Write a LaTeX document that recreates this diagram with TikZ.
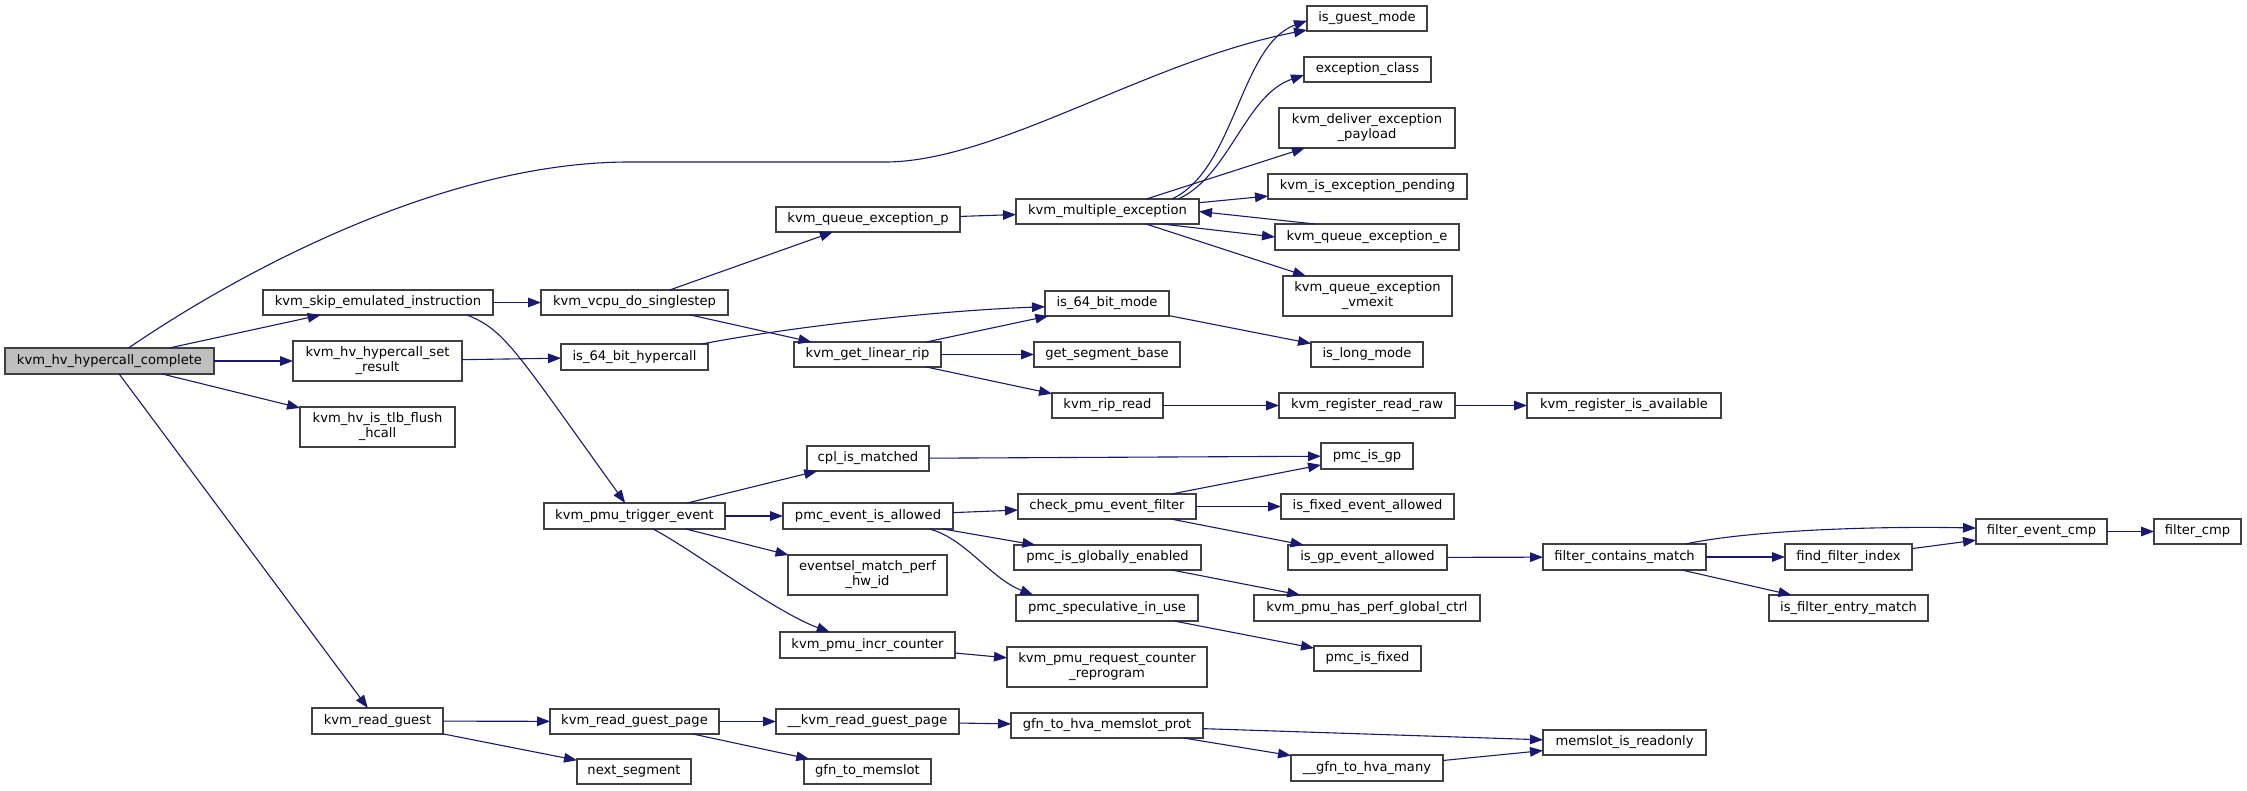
\documentclass[tikz,border=0pt]{standalone}
\usepackage{fontspec}
\setmainfont{DejaVu Sans}
\usetikzlibrary{arrows.meta}
\definecolor{edgeblue}{RGB}{25,25,112}
\definecolor{rootfill}{RGB}{191,191,191}
\definecolor{boxline}{RGB}{64,64,64}
\tikzset{
 box/.style={draw=boxline, line width=0.6pt, fill=white, inner sep=0pt, outer sep=0pt, align=center, font=\fontsize{6.55}{7.5}\selectfont, text=black},
 e/.style={draw=edgeblue, line width=0.55pt, -{Triangle[length=6.5pt,width=4.8pt]}},
}
\newcommand\nd[7][]{\node[box,#1,minimum width={(#5-#3)*0.5pt},minimum height={(#6-#4)*0.5pt}] (#2) at ({(#3+#5)/2},{(#4+#6)/2}) {#7};}
\begin{document}
\begin{tikzpicture}[x=0.5pt,y=-0.5pt]
\path[fill=white,use as bounding box] (0,0) rectangle (2247,791);
\nd[fill=rootfill]{root}{5}{348}{214}{374}{kvm\_hv\_hypercall\_complete}
\nd{skip}{263}{290}{493}{315}{kvm\_skip\_emulated\_instruction}
\nd{setres}{293}{341}{462}{381}{kvm\_hv\_hypercall\_set\\\_result}
\nd{tlb}{300}{407}{455}{447}{kvm\_hv\_is\_tlb\_flush\\\_hcall}
\nd{rg}{312}{708}{443}{734}{kvm\_read\_guest}
\nd{vcpu}{541}{290}{728}{315}{kvm\_vcpu\_do\_singlestep}
\nd{hc}{561}{344}{708}{370}{is\_64\_bit\_hypercall}
\nd{trig}{544}{503}{725}{529}{kvm\_pmu\_trigger\_event}
\nd{rgp}{550}{709}{719}{734}{kvm\_read\_guest\_page}
\nd{nseg}{577}{759}{691}{784}{next\_segment}
\nd{qp}{776}{207}{960}{232}{kvm\_queue\_exception\_p}
\nd{glr}{794}{342}{941}{367}{kvm\_get\_linear\_rip}
\nd{cpl}{807}{446}{929}{471}{cpl\_is\_matched}
\nd{pea}{783}{503}{953}{529}{pmc\_event\_is\_allowed}
\nd{evs}{788}{555}{947}{595}{eventsel\_match\_perf\\\_hw\_id}
\nd{incr}{780}{632}{955}{658}{kvm\_pmu\_incr\_counter}
\nd{krgp}{776}{709}{959}{734}{\_\_kvm\_read\_guest\_page}
\nd{g2m}{804}{759}{931}{784}{gfn\_to\_memslot}
\nd{mult}{1016}{199}{1199}{224}{kvm\_multiple\_exception}
\nd{mode}{1045}{291}{1169}{316}{is\_64\_bit\_mode}
\nd{seg}{1034}{342}{1180}{367}{get\_segment\_base}
\nd{rip}{1052}{393}{1163}{418}{kvm\_rip\_read}
\nd{cpef}{1018}{494}{1196}{519}{check\_pmu\_event\_filter}
\nd{glob}{1014}{545}{1201}{570}{pmc\_is\_globally\_enabled}
\nd{spec}{1016}{595}{1198}{621}{pmc\_speculative\_in\_use}
\nd{req}{1007}{647}{1207}{687}{kvm\_pmu\_request\_counter\\\_reprogram}
\nd{ghmp}{1011}{713}{1203}{738}{gfn\_to\_hva\_memslot\_prot}
\nd{guest}{1307}{6}{1427}{31}{is\_guest\_mode}
\nd{exc}{1304}{57}{1431}{82}{exception\_class}
\nd{deliv}{1279}{108}{1455}{148}{kvm\_deliver\_exception\\\_payload}
\nd{pend}{1268}{174}{1467}{199}{kvm\_is\_exception\_pending}
\nd{qe}{1275}{224}{1459}{250}{kvm\_queue\_exception\_e}
\nd{vmexit}{1283}{276}{1452}{316}{kvm\_queue\_exception\\\_vmexit}
\nd{long}{1311}{342}{1423}{367}{is\_long\_mode}
\nd{rrr}{1279}{393}{1455}{418}{kvm\_register\_read\_raw}
\nd{gp}{1321}{443}{1413}{469}{pmc\_is\_gp}
\nd{fixev}{1281}{494}{1454}{519}{is\_fixed\_event\_allowed}
\nd{gpev}{1288}{545}{1447}{570}{is\_gp\_event\_allowed}
\nd{perf}{1254}{595}{1480}{621}{kvm\_pmu\_has\_perf\_global\_ctrl}
\nd{fixed}{1314}{646}{1421}{671}{pmc\_is\_fixed}
\nd{many}{1291}{755}{1443}{781}{\_\_gfn\_to\_hva\_many}
\nd{avail}{1527}{393}{1721}{418}{kvm\_register\_is\_available}
\nd{fcm}{1543}{544}{1706}{570}{filter\_contains\_match}
\nd{ro}{1543}{730}{1706}{755}{memslot\_is\_readonly}
\nd{ffi}{1785}{544}{1912}{570}{find\_filter\_index}
\nd{fem}{1769}{595}{1928}{621}{is\_filter\_entry\_match}
\nd{fec}{1976}{519}{2107}{544}{filter\_event\_cmp}
\nd{fcmp}{2154}{519}{2241}{544}{filter\_cmp}
% edges
\draw[e] (root) .. controls (250,265) and (450,162) .. (629,162) -- (888,162) .. controls (1000,160) and (1150,60) .. (guest);
\draw[e] (root) -- (skip);
\draw[e] (root) -- (setres);
\draw[e] (root) -- (tlb);
\draw[e] (root) -- (rg);
\draw[e] (skip) -- (vcpu);
\draw[e] (skip.-8) .. controls (505,330) and (515,350) .. (trig);
\draw[e] (vcpu) -- (qp);
\draw[e] (vcpu) -- (glr);
\draw[e] (setres) -- (hc);
\draw[e] (hc) .. controls (800,325) and (950,310) .. (mode.183);
\draw[e] (qp) -- (mult);
\draw[e] (glr) -- (mode);
\draw[e] (glr) -- (seg);
\draw[e] (glr) -- (rip);
\draw[e] (mult.11) .. controls (1235,170) and (1240,45) .. (guest.182);
\draw[e] (mult.10) .. controls (1230,175) and (1245,95) .. (exc.185);
\draw[e] (mult) -- (deliv);
\draw[e] (mult) -- (pend);
\draw[e] (mult.-13) -- (qe.west);
\draw[e] (qe.166) -- (mult.east);
\draw[e] (mult) -- (vmexit);
\draw[e] (mode) -- (long);
\draw[e] (rip) -- (rrr);
\draw[e] (rrr) -- (avail);
\draw[e] (trig) -- (cpl);
\draw[e] (trig) -- (pea);
\draw[e] (trig) -- (evs);
\draw[e] (trig.-35) .. controls (693,550) and (775,612) .. (incr.161);
\draw[e] (incr) -- (req);
\draw[e] (pea) -- (cpef);
\draw[e] (pea) -- (glob);
\draw[e] (pea.-12) .. controls (965,538) and (990,578) .. (spec.170);
\draw[e] (cpl) -- (gp);
\draw[e] (cpef) -- (gp);
\draw[e] (cpef) -- (fixev);
\draw[e] (cpef) -- (gpev);
\draw[e] (glob) -- (perf);
\draw[e] (spec) -- (fixed);
\draw[e] (gpev) -- (fcm);
\draw[e] (fcm.12) .. controls (1750,530) and (1880,526) .. (fec.177);
\draw[e] (fcm) -- (ffi);
\draw[e] (fcm) -- (fem);
\draw[e] (ffi) -- (fec);
\draw[e] (fec) -- (fcmp);
\draw[e] (rg) -- (rgp);
\draw[e] (rg) -- (nseg);
\draw[e] (rgp) -- (krgp);
\draw[e] (rgp) -- (g2m);
\draw[e] (krgp) -- (ghmp);
\draw[e] (ghmp) -- (ro);
\draw[e] (ghmp) -- (many);
\draw[e] (many) -- (ro);
\end{tikzpicture}
\end{document}
